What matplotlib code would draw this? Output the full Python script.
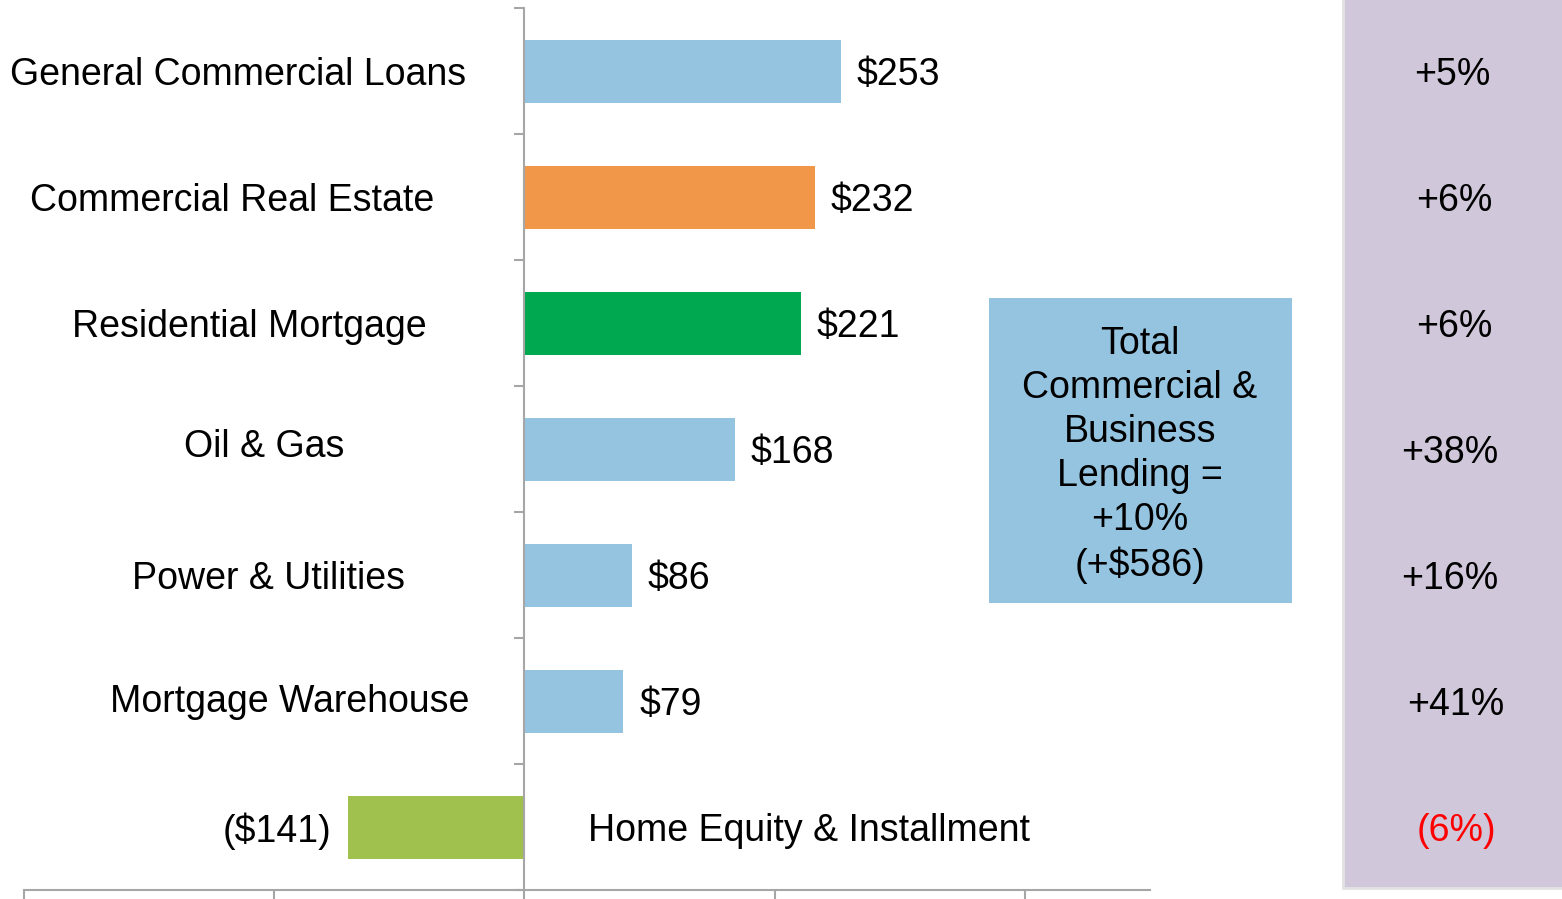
import matplotlib.pyplot as plt
from matplotlib.patches import Rectangle
import numpy as np

plt.rcParams['font.family'] = ['Liberation Sans', 'DejaVu Sans']

# data
categories = ['General Commercial Loans', 'Commercial Real Estate', 'Residential Mortgage',
              'Oil & Gas', 'Power & Utilities', 'Mortgage Warehouse', 'Home Equity & Installment']
values = [253, 232, 221, 168, 86, 79, -141]
value_labels = ['$253', '$232', '$221', '$168', '$86', '$79', '($141)']
pct_labels = ['+5%', '+6%', '+6%', '+38%', '+16%', '+41%', '(6%)']
bar_colors = ['#95C4E1', '#F0974A', '#00A84F', '#95C4E1', '#95C4E1', '#95C4E1', '#A1C14E']
box_text = 'Total\nCommercial &\nBusiness\nLending =\n+10%\n(+$586)'

# layout (pixel centres of the left labels, nudges) -- not data
W, H = 1562, 899
label_x = [238, 232, 249, 264, 268, 290]
label_dy = [0, 0, 0, -6, 0, -3]
pct_x = [1452, 1454, 1454, 1450, 1450, 1456, 1456]
dy_txt = -4  # text sits a bit lower than the bbox centre

fig = plt.figure(figsize=(W / 100, H / 100), dpi=100)
ax = fig.add_axes([24 / W, 9 / H, (1150 - 24) / W, (890 - 8) / H])

y = np.arange(len(categories))
ax.barh(y, values, height=0.5, color=bar_colors, zorder=2)
ax.set_xlim(-400, 500)
ax.set_ylim(len(categories) - 0.5, -0.5)

spine_col = '#A6A6A6'
for s in ['top', 'right']:
    ax.spines[s].set_visible(False)
ax.spines['left'].set_position(('data', 0))
ax.spines['left'].set_color(spine_col)
ax.spines['bottom'].set_color(spine_col)
ax.spines['left'].set_linewidth(1.5)
ax.spines['bottom'].set_linewidth(1.5)

ax.set_xticks([-400, -200, 0, 200, 400])
ax.set_xticklabels([])
ax.tick_params(axis='x', direction='out', length=9, width=1.5, color=spine_col)
ax.set_yticks(np.arange(-0.5, len(categories), 1.0))
ax.set_yticklabels([])
ax.tick_params(axis='y', direction='out', length=7, width=1.5, color=spine_col)

fs = 27
# value labels next to bars
for i, v in enumerate(values):
    if v >= 0:
        ax.annotate(value_labels[i], (v, i), xytext=(16, dy_txt), textcoords='offset pixels',
                    ha='left', va='center', fontsize=fs)
    else:
        ax.annotate(value_labels[i], (v, i), xytext=(-17, dy_txt), textcoords='offset pixels',
                    ha='right', va='center', fontsize=fs)

# category labels on the left
for i, name in enumerate(categories[:-1]):
    yc = ax.transData.transform((0, i))[1]
    fig.text(label_x[i] / W, (yc - label_dy[i] + dy_txt) / H, name,
             ha='center', va='center', fontsize=fs)
# negative category printed to the right of the axis
ax.annotate(categories[-1], (0, len(categories) - 1), xytext=(285, dy_txt), textcoords='offset pixels',
            ha='center', va='center', fontsize=fs)

# summary box
fig.patches.append(Rectangle((989 / W, (H - 603) / H), (1292 - 989) / W, (603 - 298) / H,
                             transform=fig.transFigure, facecolor='#95C4E1', edgecolor='none'))
fig.text(1140 / W, (H - 455) / H, box_text, ha='center', va='center', fontsize=fs,
         linespacing=1.28)

# growth panel on the right (runs off the top and right edges)
fig.patches.append(Rectangle((1343 / W, (H - 888) / H), (W + 10 - 1343) / W, (888 + 10) / H,
                             transform=fig.transFigure, facecolor='#D0C8DA',
                             edgecolor='#E2E2E2', linewidth=2, zorder=0))
for i, p in enumerate(pct_labels):
    yp = ax.transData.transform((0, i))[1]
    col = 'red' if p.startswith('(') else 'black'
    fig.text(pct_x[i] / W, (yp + dy_txt) / H, p, ha='center', va='center', fontsize=fs, color=col)

fig.savefig('out.png', dpi=100)
